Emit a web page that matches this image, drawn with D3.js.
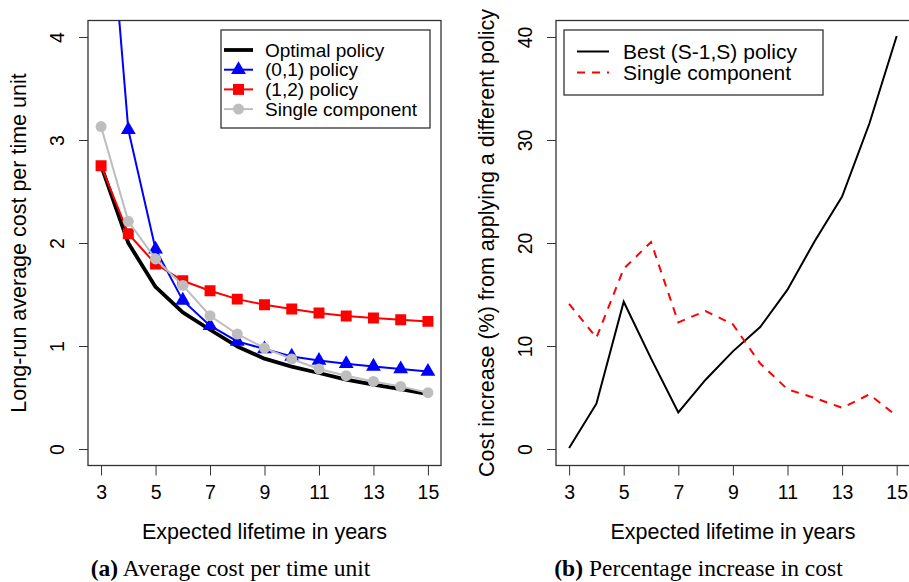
<!DOCTYPE html>
<html>
<head>
<meta charset="utf-8">
<script src="https://cdn.jsdelivr.net/npm/d3@7"></script>
<style>
  body { margin: 0; background: #fff; }
  text { font-family: "Liberation Sans", Arial, sans-serif; fill: #000; }
  .cap { font-family: "Liberation Serif", "DejaVu Serif", serif; }
</style>
</head>
<body>
<div class="canvas"></div>
<script>
// data
const years = [3, 4, 5, 6, 7, 8, 9, 10, 11, 12, 13, 14, 15];
const optimal = [2.75, 2.0, 1.573, 1.326, 1.158, 0.996, 0.877, 0.80, 0.738, 0.673, 0.624, 0.582, 0.534];
const policy01 = [6.3, 3.10, 1.94, 1.443, 1.197, 1.045, 0.971, 0.899, 0.86, 0.828, 0.802, 0.777, 0.753];
const policy12 = [2.75, 2.09, 1.796, 1.634, 1.537, 1.455, 1.401, 1.359, 1.32, 1.291, 1.272, 1.255, 1.239];
const single = [3.13, 2.21, 1.845, 1.588, 1.294, 1.116, 0.98, 0.874, 0.777, 0.712, 0.656, 0.608, 0.547];

const bestPct = [0.1, 4.4, 14.3, 8.8, 3.56, 6.73, 9.48, 11.84, 15.47, 20.2, 24.5, 31.6, 40.1];
const singlePct = [14.1, 10.8, 17.5, 20.1, 12.3, 13.4, 12.1, 8.3, 5.8, 4.95, 4.0, 5.3, 3.2];

const xTicks = [3, 5, 7, 9, 11, 13, 15];
const yTicksA = [0, 1, 2, 3, 4];
const yTicksB = [0, 10, 20, 30, 40];

const width = 909, height = 582;
const fs = '19.5px';      // ticks
const fsLab = '21.5px';   // axis titles

const svg = d3.select('.canvas')
    .append('svg')
        .attr('width', width)
        .attr('height', height);

// panel geometry
const plotTop = 20.5, plotBottom = 465.5;

function panel(opts) {
    const x = d3.scaleLinear().domain([2.52, 15.48]).range([opts.left, opts.right]);
    const y = d3.scaleLinear().domain(opts.ydom).range([plotBottom, plotTop]);

    const g = svg.append('g');

    const clipId = 'clip-' + opts.id;
    svg.append('clipPath').attr('id', clipId)
        .append('rect')
        .attr('x', opts.left).attr('y', plotTop)
        .attr('width', opts.right - opts.left).attr('height', plotBottom - plotTop);

    // x axis
    const xAxis = d3.axisBottom(x).tickValues(xTicks).tickSize(10)
        .tickFormat(d3.format('d'));
    const xg = g.append('g').attr('transform', `translate(0,${plotBottom})`).call(xAxis);
    xg.select('.domain').remove();
    xg.selectAll('line').attr('stroke', '#333');
    xg.selectAll('text').attr('font-size', fs).attr('font-family', null)
        .attr('y', 27).attr('dy', '0.35em');

    // y axis, labels rotated like R
    const yAxis = d3.axisLeft(y).tickValues(opts.yticks).tickSize(9)
        .tickFormat(d3.format('d'));
    const yg = g.append('g').attr('transform', `translate(${opts.left},0)`).call(yAxis);
    yg.select('.domain').remove();
    yg.selectAll('line').attr('stroke', '#333');
    yg.selectAll('text')
        .attr('font-size', fs).attr('font-family', null)
        .attr('transform', 'rotate(-90)')
        .attr('x', 0).attr('y', -31).attr('dy', null)
        .attr('text-anchor', 'middle')
        .attr('dominant-baseline', 'central');

    // box
    g.append('rect')
        .attr('x', opts.left).attr('y', plotTop)
        .attr('width', opts.right - opts.left).attr('height', plotBottom - plotTop)
        .attr('fill', 'none').attr('stroke', '#333').attr('stroke-width', 1.3);

    // titles
    g.append('text')
        .attr('x', (x(3) + x(15)) / 2).attr('y', 532)
        .attr('text-anchor', 'middle').attr('dominant-baseline', 'central')
        .attr('font-size', fsLab)
        .text('Expected lifetime in years');

    g.append('text')
        .attr('transform', `translate(${opts.titleX},243) rotate(-90)`)
        .attr('text-anchor', 'middle').attr('dominant-baseline', 'central')
        .attr('font-size', fsLab)
        .text(opts.ytitle);

    const cap = g.append('text').attr('class', 'cap')
        .attr('x', opts.capX).attr('y', 576)
        .attr('text-anchor', 'middle')
        .attr('font-size', '23.5px');
    cap.append('tspan').attr('font-weight', 'bold').text(opts.capTag);
    cap.append('tspan').text(' ' + opts.caption);

    const plot = g.append('g').attr('clip-path', `url(#${clipId})`);
    return {x, y, g, plot};
}

// ---------- panel (a) ----------
const A = panel({
    id: 'a', left: 88, right: 441, ydom: [-0.16, 4.16], yticks: yTicksA,
    titleX: 19, ytitle: 'Long-run average cost per time unit',
    capX: 230.5, capTag: '(a)', caption: 'Average cost per time unit'
});

const lineA = d3.line().x((d, i) => A.x(years[i])).y(d => A.y(d));

const seriesA = [
    {name: 'Single component', vals: single, color: '#bebebe', w: 2, marker: 'circle'},
    {name: '(0,1) policy', vals: policy01, color: '#0000ff', w: 2, marker: 'triangle'},
    {name: '(1,2) policy', vals: policy12, color: '#ff0000', w: 2, marker: 'square'},
    {name: 'Optimal policy', vals: optimal, color: '#000', w: 3.8, marker: null}
];

const symbolOf = {
    circle: d3.symbol().type(d3.symbolCircle).size(95),
    triangle: d3.symbol().type(d3.symbolTriangle).size(95),
    square: d3.symbol().type(d3.symbolSquare).size(120)
};

// R draws optimal first, then the others on top
const drawOrder = [seriesA[3], seriesA[1], seriesA[2], seriesA[0]];
drawOrder.forEach(s => {
    A.plot.append('path')
        .attr('d', lineA(s.vals))
        .attr('fill', 'none')
        .attr('stroke', s.color)
        .attr('stroke-width', s.w)
        .attr('stroke-linejoin', 'round');
    if (s.marker) {
        A.plot.selectAll(null)
            .data(s.vals)
            .enter()
            .append('path')
            .attr('d', symbolOf[s.marker])
            .attr('transform', (d, i) => `translate(${A.x(years[i])},${A.y(d)})`)
            .attr('fill', s.color);
    }
});

// legend (a)
const legA = A.g.append('g');
legA.append('rect')
    .attr('x', 221).attr('y', 30).attr('width', 209).attr('height', 98)
    .attr('fill', '#fff').attr('stroke', '#333').attr('stroke-width', 1.3);
const legAItems = [seriesA[3], seriesA[1], seriesA[2], seriesA[0]];
legAItems.forEach((s, i) => {
    const ly = 50 + i * 19.7;
    legA.append('line')
        .attr('x1', 224).attr('x2', 253).attr('y1', ly).attr('y2', ly)
        .attr('stroke', s.color).attr('stroke-width', s.w);
    if (s.marker) {
        legA.append('path')
            .attr('d', symbolOf[s.marker])
            .attr('transform', `translate(238.5,${ly})`)
            .attr('fill', s.color);
    }
    legA.append('text')
        .attr('x', 265).attr('y', ly)
        .attr('dominant-baseline', 'central')
        .attr('font-size', '19px')
        .text(s.name);
});

// ---------- panel (b) ----------
const B = panel({
    id: 'b', left: 556, right: 909.8, ydom: [-1.6, 41.6], yticks: yTicksB,
    titleX: 487, ytitle: 'Cost increase (%) from applying a different policy',
    capX: 698.5, capTag: '(b)', caption: 'Percentage increase in cost'
});

const lineB = d3.line().x((d, i) => B.x(years[i])).y(d => B.y(d));

B.plot.append('path')
    .attr('d', lineB(bestPct))
    .attr('fill', 'none').attr('stroke', '#000').attr('stroke-width', 2);

B.plot.append('path')
    .attr('d', lineB(singlePct))
    .attr('fill', 'none').attr('stroke', '#ff0000').attr('stroke-width', 2)
    .attr('stroke-dasharray', '8,7');

// legend (b)
const legB = B.g.append('g');
legB.append('rect')
    .attr('x', 564).attr('y', 30).attr('width', 259).attr('height', 65)
    .attr('fill', '#fff').attr('stroke', '#333').attr('stroke-width', 1.3);
[
    {name: 'Best (S-1,S) policy', color: '#000', dash: null},
    {name: 'Single component', color: '#ff0000', dash: '8,7'}
].forEach((s, i) => {
    const ly = 51.5 + i * 21;
    legB.append('line')
        .attr('x1', 577).attr('x2', 609).attr('y1', ly).attr('y2', ly)
        .attr('stroke', s.color).attr('stroke-width', 2)
        .attr('stroke-dasharray', s.dash);
    legB.append('text')
        .attr('x', 623).attr('y', ly)
        .attr('dominant-baseline', 'central')
        .attr('font-size', '21px')
        .text(s.name);
});
</script>
</body>
</html>
